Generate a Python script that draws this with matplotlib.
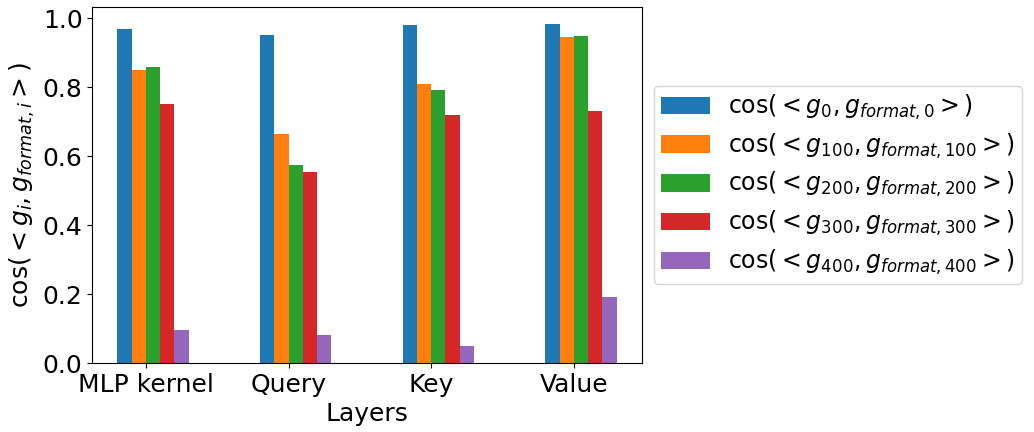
import matplotlib
matplotlib.use("Agg")
import matplotlib.pyplot as plt
import numpy as np

layers = ["MLP kernel", "Query", "Key", "Value"]
steps = ["0", "100", "200", "300", "400"]
cos_step0 = [0.970, 0.953, 0.982, 0.985]
cos_step100 = [0.851, 0.665, 0.810, 0.945]
cos_step200 = [0.859, 0.574, 0.793, 0.950]
cos_step300 = [0.752, 0.554, 0.721, 0.732]
cos_step400 = [0.097, 0.081, 0.049, 0.191]
series = [cos_step0, cos_step100, cos_step200, cos_step300, cos_step400]
colors = ["#1f77b4", "#ff7f0e", "#2ca02c", "#d62728", "#9467bd"]

fig = plt.figure(figsize=(10.34, 4.32), dpi=100)
ax = fig.add_axes([0.0893, 0.1597, 0.5313, 0.8248])

x = np.arange(len(layers))
w = 0.1
for i, (vals, s) in enumerate(zip(series, steps)):
    ax.bar(x - 0.2 + i * w, vals, width=w, align="edge", color=colors[i],
           label=r"$\cos(<g_{%s}, g_{format,%s}>)$" % (s, s))

ax.set_xticks(x)
ax.set_xticklabels(layers, fontsize=18)
ax.tick_params(axis="y", labelsize=18)
ax.set_xlabel("Layers", fontsize=18)
ax.set_ylabel(r"$\cos(<g_i, g_{format,i}>)$", fontsize=18)
ax.legend(loc="center left", bbox_to_anchor=(1, 0.5), fontsize=17,
          handlelength=2.1, handleheight=0.76, handletextpad=0.75,
          labelspacing=0.41, borderpad=0.3)

fig.savefig("out.png", dpi=100)
